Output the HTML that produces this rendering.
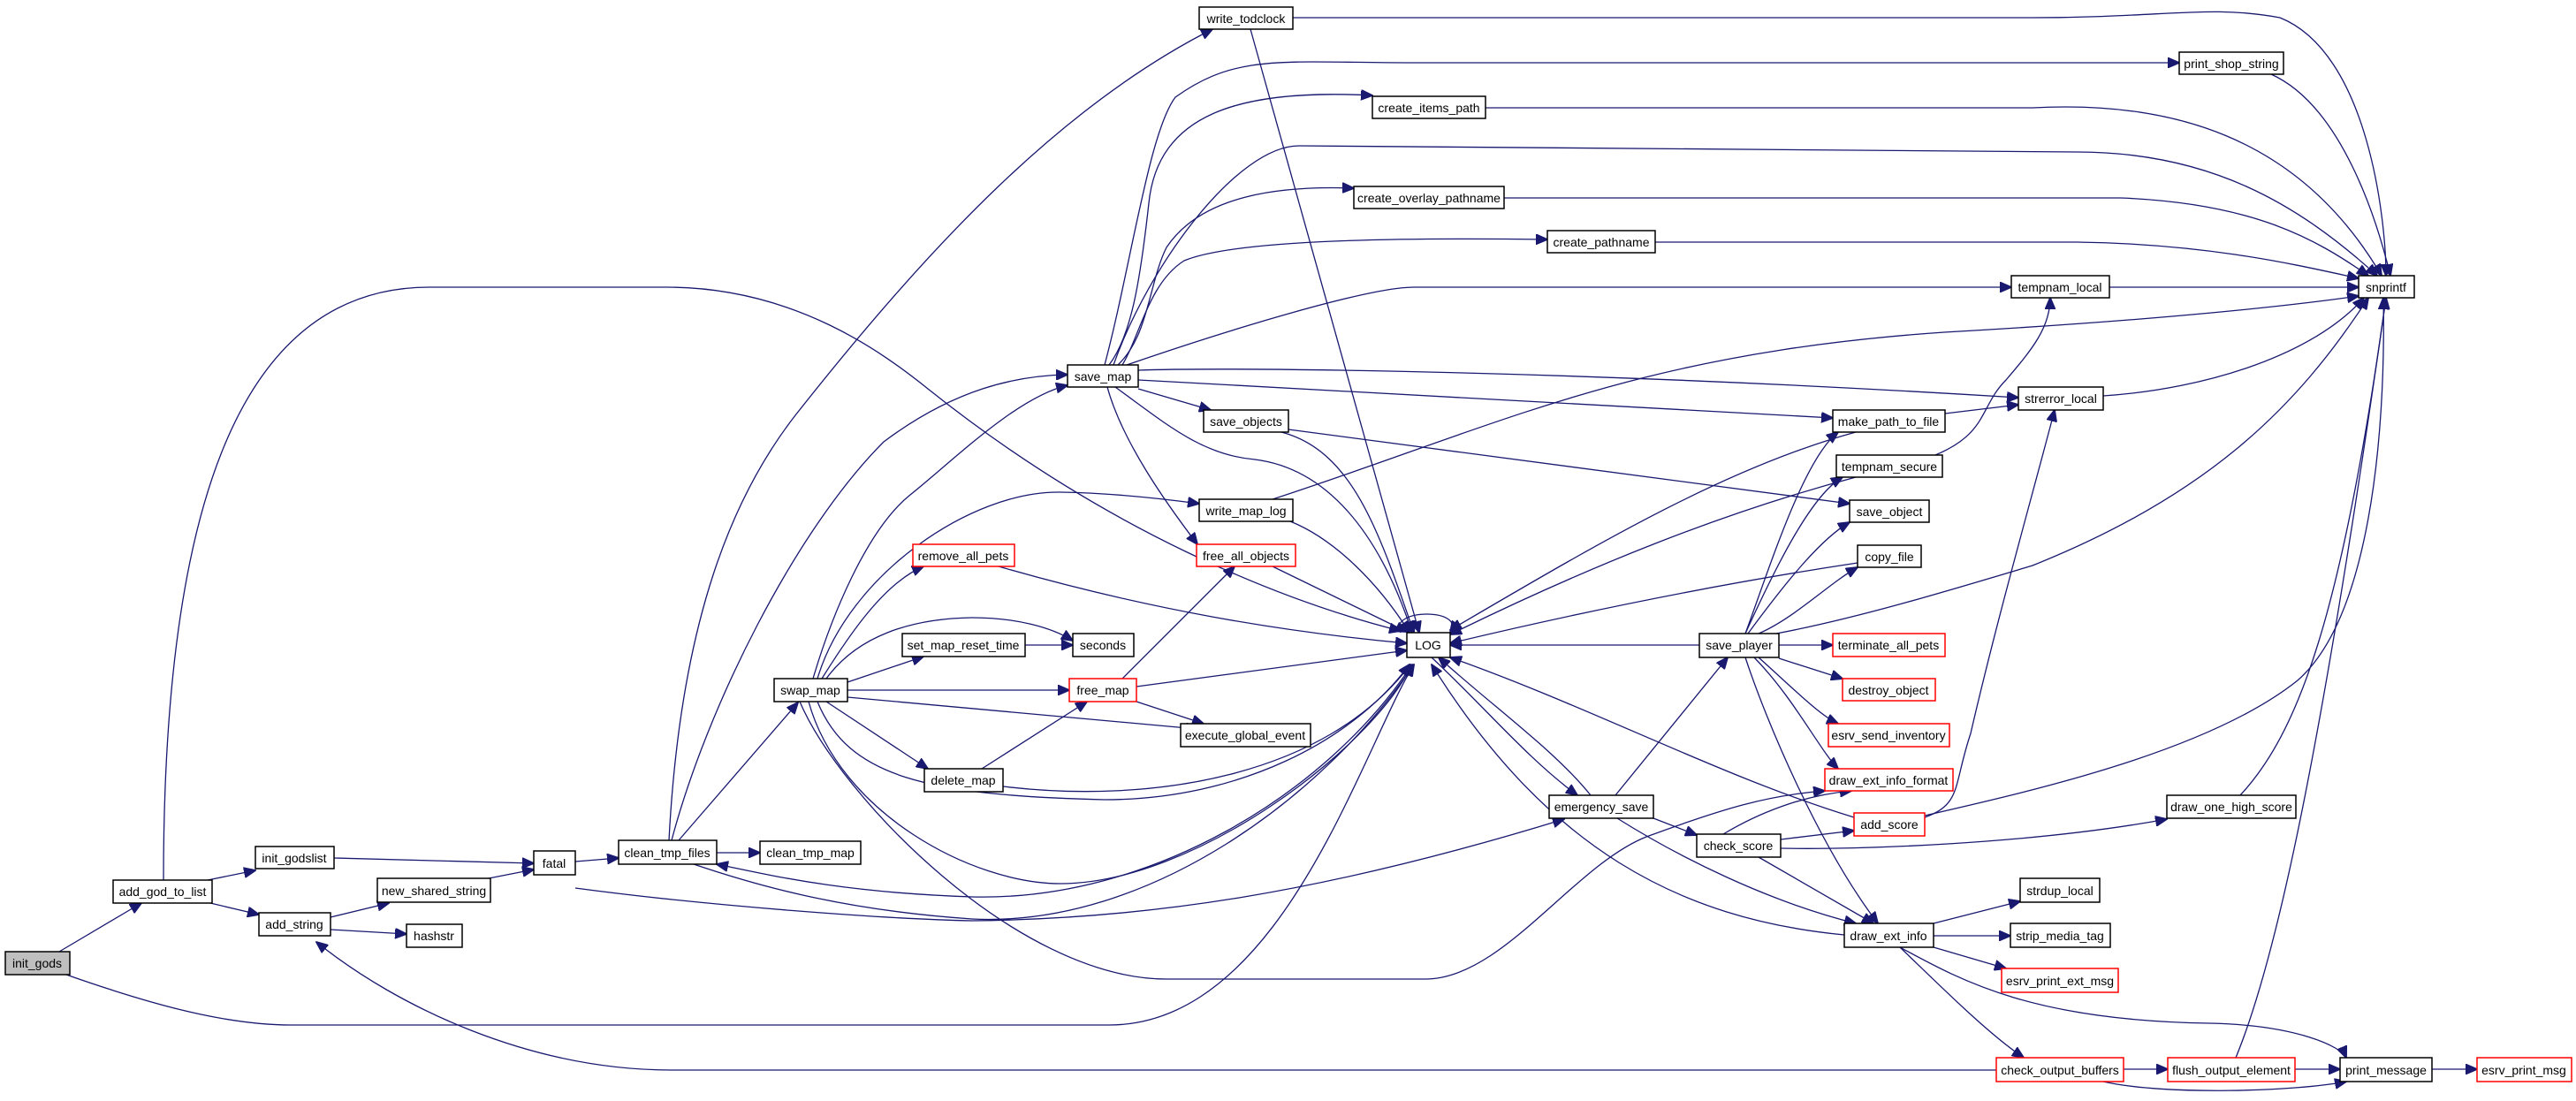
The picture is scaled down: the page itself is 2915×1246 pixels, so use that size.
<!DOCTYPE html>
<html><head><meta charset="utf-8"><style>
html,body{margin:0;padding:0;background:#fff;}
svg{display:block;}
text{font-family:"Liberation Sans",sans-serif;font-size:14px;fill:#000;}
</style></head><body>
<svg width="2915" height="1246" viewBox="0 0 2915 1246" xmlns="http://www.w3.org/2000/svg">
<defs>
<marker id="a" markerUnits="userSpaceOnUse" markerWidth="14" markerHeight="12" refX="13" refY="6" orient="auto">
<path d="M0,0 L14,6 L0,12 z" fill="#191970" stroke="#191970"/>
</marker>
</defs>
<g fill="none" stroke="#191970" stroke-width="1.3" marker-end="url(#a)">
<path d="M67,1077 L160,1022"/>
<path d="M75,1103 C180,1140 260,1160 330,1160 L1255,1160 C1450,1160 1540,850 1600,752"/>
<path d="M185,996 C185,600 260,325 486,325 L754,325 C900,325 1000,400 1050,440 C1250,600 1450,680 1585,714"/>
<path d="M235,996 L289,985"/>
<path d="M238,1022 L293,1035"/>
<path d="M378,971 L604,977"/>
<path d="M374,1038 L440,1022"/>
<path d="M374,1052 L460,1057"/>
<path d="M548,995 L604,984"/>
<path d="M651,975 L700,971"/>
<path d="M757,951 C770,700 830,560 900,470 C1050,280 1200,120 1372,33"/>
<path d="M760,951 C800,800 900,600 1000,500 C1080,440 1150,425 1208,424"/>
<path d="M768,951 L903,795"/>
<path d="M811,965 L860,965"/>
<path d="M785,978 C850,1000 950,1030 1100,1040 C1300,1050 1500,900 1600,752"/>
<path d="M1598,752 C1500,900 1300,1020 1100,1015 C950,1010 870,990 811,978"/>
<path d="M651,1005 C800,1025 1000,1040 1100,1042 C1300,1040 1500,1010 1770,927"/>
<path d="M920,768 C940,700 980,600 1030,560 C1080,520 1150,450 1208,436"/>
<path d="M925,768 C960,650 1100,555 1200,557 C1260,558 1320,565 1357,570"/>
<path d="M930,768 C960,720 1000,660 1045,641"/>
<path d="M935,768 C970,720 1030,700 1100,699 C1150,699 1190,710 1214,725"/>
<path d="M959,772 L1045,743"/>
<path d="M959,781 L1210,781"/>
<path d="M959,789 L1355,825"/>
<path d="M935,794 L1050,870"/>
<path d="M925,794 C960,880 1050,900 1250,905 C1400,905 1530,840 1595,752"/>
<path d="M915,794 C950,920 1100,1000 1200,1000 C1350,1000 1550,850 1598,752"/>
<path d="M905,794 C950,900 1150,1108 1320,1108 L1613,1108 C1700,1108 1780,980 1863,947 C1950,915 2000,900 2065,895"/>
<path d="M1111,870 L1230,794"/>
<path d="M1135,890 C1300,910 1500,880 1596,752"/>
<path d="M1270,768 L1397,641"/>
<path d="M1286,777 L1592,736"/>
<path d="M1286,794 L1362,819"/>
<path d="M1130,641 C1300,690 1450,715 1592,728"/>
<path d="M1160,730 L1214,730"/>
<path d="M1440,641 L1592,715"/>
<path d="M1460,590 C1510,610 1560,660 1595,716"/>
<path d="M1440,565 C1700,480 1850,400 2200,376 C2450,362 2600,345 2669,335"/>
<path d="M1415,33 L1606,716"/>
<path d="M1463,20 L2300,20 C2450,20 2500,5 2580,20 C2680,60 2700,250 2700,312"/>
<path d="M1250,413 C1280,300 1300,150 1330,110 C1400,60 1450,71 1600,71 L2466,71"/>
<path d="M1255,413 C1280,380 1290,320 1300,230 C1310,130 1400,100 1553,108"/>
<path d="M1260,413 C1300,300 1400,165 1470,165 L2350,172 C2500,172 2600,230 2690,312"/>
<path d="M1265,413 C1300,380 1300,320 1320,280 C1360,220 1450,210 1532,213"/>
<path d="M1270,413 C1290,380 1300,320 1340,295 C1400,270 1600,269 1751,271"/>
<path d="M1275,413 C1400,370 1550,325 1600,325 L2276,325"/>
<path d="M1288,419 C1400,415 1800,420 2284,450"/>
<path d="M1288,430 L2074,473"/>
<path d="M1288,440 L1370,464"/>
<path d="M1253,438 C1270,500 1320,570 1355,616"/>
<path d="M1262,438 C1320,480 1360,515 1420,520 C1500,530 1560,600 1598,716"/>
<path d="M1450,489 C1530,510 1560,600 1600,716"/>
<path d="M1458,486 L2093,570"/>
<path d="M1681,122 L2300,122 C2450,114 2600,150 2695,312"/>
<path d="M1702,224 L2400,224 C2550,230 2620,270 2680,312"/>
<path d="M1873,274 L2350,274 C2500,276 2600,300 2669,315"/>
<path d="M2387,325 L2669,325"/>
<path d="M2380,448 C2500,440 2620,400 2675,337"/>
<path d="M2201,468 L2284,458"/>
<path d="M2100,489 C1950,530 1800,620 1641,713"/>
<path d="M2100,540 C1950,580 1800,640 1641,718"/>
<path d="M2102,637 C1950,660 1800,690 1641,728"/>
<path d="M2190,515 C2250,490 2240,460 2270,430 C2300,395 2320,370 2320,337"/>
<path d="M1923,730 L1641,730"/>
<path d="M1975,717 C2000,650 2040,520 2080,489"/>
<path d="M1975,717 C2010,640 2050,560 2085,540"/>
<path d="M1978,717 C2020,660 2060,610 2093,591"/>
<path d="M1990,717 C2030,700 2070,660 2102,642"/>
<path d="M2010,717 C2100,700 2200,670 2300,640 C2500,560 2600,460 2680,337"/>
<path d="M2013,730 L2074,730"/>
<path d="M2013,745 L2085,768"/>
<path d="M1990,744 C2030,780 2060,810 2080,819"/>
<path d="M1985,744 C2030,790 2060,850 2080,870"/>
<path d="M1975,744 C2000,820 2060,960 2125,1045"/>
<path d="M1585,716 C1570,688 1660,688 1641,716"/>
<path d="M1620,744 C1680,800 1730,860 1785,900"/>
<path d="M1800,900 C1760,850 1690,800 1628,744"/>
<path d="M1828,900 L1955,744"/>
<path d="M1871,926 L1920,945"/>
<path d="M1830,926 C1900,970 2000,1020 2100,1045"/>
<path d="M2087,1058 C1900,1040 1750,960 1620,752"/>
<path d="M2098,925 C1950,880 1800,800 1641,744"/>
<path d="M1950,944 C1990,920 2040,900 2095,895"/>
<path d="M2015,950 L2098,940"/>
<path d="M2015,960 C2100,962 2300,955 2452,927"/>
<path d="M1990,970 L2120,1045"/>
<path d="M2178,925 C2220,910 2210,890 2230,830 C2260,700 2300,560 2325,464"/>
<path d="M2178,923 C2300,895 2500,850 2600,770 C2680,700 2700,500 2697,337"/>
<path d="M2535,900 C2600,830 2650,700 2700,337"/>
<path d="M2188,1045 L2286,1020"/>
<path d="M2188,1059 L2275,1059"/>
<path d="M2188,1072 L2270,1096"/>
<path d="M2150,1072 C2220,1110 2300,1155 2500,1158 C2600,1160 2650,1185 2655,1197"/>
<path d="M2150,1072 C2200,1120 2250,1170 2290,1197"/>
<path d="M2403,1210 L2453,1210"/>
<path d="M2380,1224 C2450,1240 2600,1235 2655,1224"/>
<path d="M2259,1211 L760,1211 C600,1211 450,1140 358,1066"/>
<path d="M2597,1210 L2648,1210"/>
<path d="M2530,1197 C2570,1100 2620,900 2700,337"/>
<path d="M2752,1210 L2803,1210"/>
<path d="M2570,84 C2650,120 2690,250 2705,312"/>
</g>
<g stroke-width="1.5">
<g stroke="#000" fill="#fff">
<rect x="6" y="1077" width="73" height="26" fill="#bfbfbf"/>
<rect x="128" y="996" width="112" height="26"/>
<rect x="289" y="958" width="89" height="25"/>
<rect x="293" y="1033" width="81" height="26"/>
<rect x="427" y="994" width="128" height="27"/>
<rect x="460" y="1046" width="63" height="26"/>
<rect x="604" y="963" width="47" height="27"/>
<rect x="700" y="951" width="111" height="27"/>
<rect x="860" y="952" width="114" height="26"/>
<rect x="876" y="768" width="83" height="26"/>
<rect x="1357" y="8" width="106" height="25"/>
<rect x="1553" y="109" width="128" height="25"/>
<rect x="1532" y="211" width="170" height="25"/>
<rect x="1751" y="261" width="122" height="25"/>
<rect x="1208" y="413" width="80" height="25"/>
<rect x="1362" y="464" width="96" height="25"/>
<rect x="1357" y="565" width="106" height="25"/>
<rect x="1021" y="717" width="139" height="26"/>
<rect x="1214" y="717" width="69" height="26"/>
<rect x="1592" y="716" width="49" height="28"/>
<rect x="1336" y="819" width="147" height="26"/>
<rect x="1046" y="870" width="89" height="26"/>
<rect x="1753" y="900" width="118" height="26"/>
<rect x="1923" y="717" width="90" height="27"/>
<rect x="1920" y="944" width="95" height="26"/>
<rect x="2466" y="59" width="118" height="25"/>
<rect x="2669" y="312" width="63" height="25"/>
<rect x="2276" y="312" width="111" height="25"/>
<rect x="2284" y="438" width="96" height="26"/>
<rect x="2074" y="464" width="127" height="25"/>
<rect x="2078" y="515" width="120" height="25"/>
<rect x="2093" y="566" width="90" height="25"/>
<rect x="2102" y="617" width="72" height="25"/>
<rect x="2452" y="900" width="146" height="26"/>
<rect x="2286" y="994" width="90" height="27"/>
<rect x="2087" y="1045" width="101" height="27"/>
<rect x="2275" y="1045" width="113" height="27"/>
<rect x="2648" y="1197" width="104" height="27"/>
</g>
<g stroke="#ff0000" fill="#fff">
<rect x="1033" y="616" width="115" height="25"/>
<rect x="1354" y="616" width="112" height="25"/>
<rect x="1210" y="768" width="76" height="26"/>
<rect x="2074" y="717" width="127" height="26"/>
<rect x="2085" y="768" width="105" height="25"/>
<rect x="2069" y="819" width="137" height="26"/>
<rect x="2065" y="870" width="145" height="25"/>
<rect x="2098" y="920" width="80" height="26"/>
<rect x="2265" y="1096" width="132" height="27"/>
<rect x="2259" y="1197" width="144" height="27"/>
<rect x="2453" y="1197" width="144" height="27"/>
<rect x="2803" y="1197" width="107" height="27"/>
</g>
</g>
<g text-anchor="middle">
<text x="42" y="1095">init_gods</text>
<text x="184" y="1014">add_god_to_list</text>
<text x="333" y="976">init_godslist</text>
<text x="333" y="1051">add_string</text>
<text x="491" y="1013">new_shared_string</text>
<text x="491" y="1064">hashstr</text>
<text x="627" y="982">fatal</text>
<text x="755" y="970">clean_tmp_files</text>
<text x="917" y="970">clean_tmp_map</text>
<text x="917" y="786">swap_map</text>
<text x="1410" y="26">write_todclock</text>
<text x="1617" y="127">create_items_path</text>
<text x="1617" y="229">create_overlay_pathname</text>
<text x="1812" y="279">create_pathname</text>
<text x="1248" y="431">save_map</text>
<text x="1410" y="482">save_objects</text>
<text x="1410" y="583">write_map_log</text>
<text x="1090" y="735">set_map_reset_time</text>
<text x="1248" y="735">seconds</text>
<text x="1616" y="735">LOG</text>
<text x="1409" y="837">execute_global_event</text>
<text x="1090" y="888">delete_map</text>
<text x="1812" y="918">emergency_save</text>
<text x="1968" y="735">save_player</text>
<text x="1967" y="962">check_score</text>
<text x="2525" y="77">print_shop_string</text>
<text x="2700" y="330">snprintf</text>
<text x="2331" y="330">tempnam_local</text>
<text x="2332" y="456">strerror_local</text>
<text x="2137" y="482">make_path_to_file</text>
<text x="2138" y="533">tempnam_secure</text>
<text x="2138" y="584">save_object</text>
<text x="2138" y="635">copy_file</text>
<text x="2525" y="918">draw_one_high_score</text>
<text x="2331" y="1013">strdup_local</text>
<text x="2137" y="1064">draw_ext_info</text>
<text x="2331" y="1064">strip_media_tag</text>
<text x="2700" y="1216">print_message</text>
<text x="1090" y="634">remove_all_pets</text>
<text x="1410" y="634">free_all_objects</text>
<text x="1248" y="786">free_map</text>
<text x="2137" y="735">terminate_all_pets</text>
<text x="2137" y="786">destroy_object</text>
<text x="2137" y="837">esrv_send_inventory</text>
<text x="2137" y="888">draw_ext_info_format</text>
<text x="2138" y="938">add_score</text>
<text x="2331" y="1115">esrv_print_ext_msg</text>
<text x="2331" y="1216">check_output_buffers</text>
<text x="2525" y="1216">flush_output_element</text>
<text x="2856" y="1216">esrv_print_msg</text>
</g>
</svg>
</body></html>
